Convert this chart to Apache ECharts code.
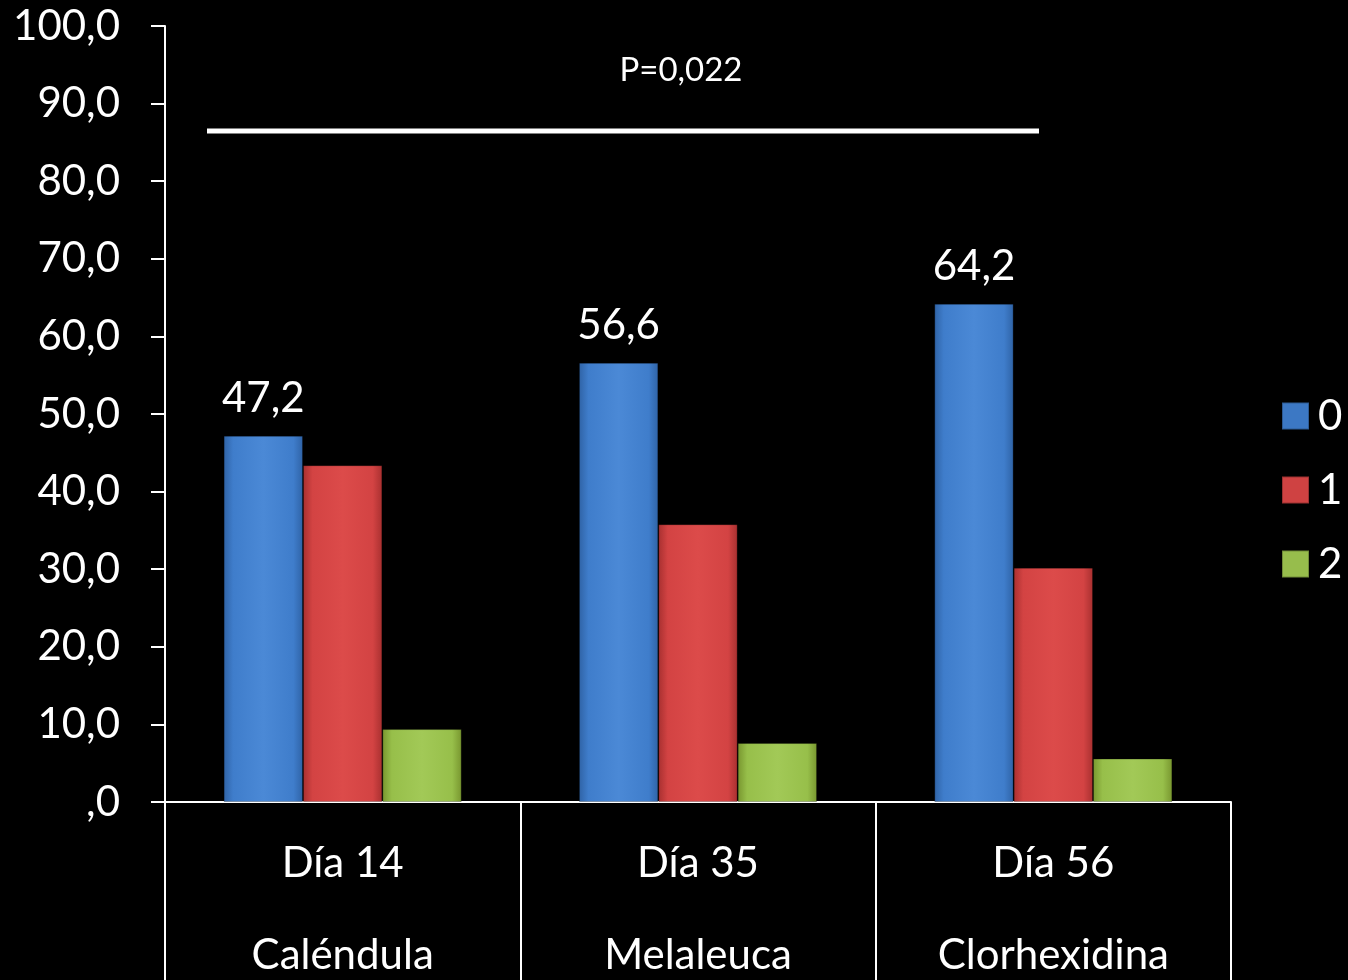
<!DOCTYPE html>
<html>
<head>
<meta charset="utf-8">
<script src="https://cdn.jsdelivr.net/npm/echarts@6/dist/echarts.min.js"></script>
<style>
  html, body { margin: 0; padding: 0; background: #000; }
  #chart { width: 1348px; height: 980px; }
</style>
</head>
<body>
<div id="chart"></div>
<script>
// Categories: study day + treatment group
const categories = ['Día 14\nCaléndula', 'Día 35\nMelaleuca', 'Día 56\nClorhexidina'];
// Percentage per score (0, 1, 2)
const score0 = [47.2, 56.6, 64.2];
const score1 = [43.4, 35.8, 30.2];
const score2 = [9.4, 7.6, 5.6];
const seriesNames = ['0', '1', '2'];
const yTickLabels = [',0', '10,0', '20,0', '30,0', '40,0', '50,0', '60,0', '70,0', '80,0', '90,0', '100,0'];
const pValueText = 'P=0,022';

const FONT = 'Lato, "Open Sans", sans-serif';

function bevel(dark, mid, light) {
  return new echarts.graphic.LinearGradient(0, 0, 1, 0, [
    { offset: 0, color: dark },
    { offset: 0.12, color: mid },
    { offset: 0.5, color: light },
    { offset: 0.88, color: mid },
    { offset: 1, color: dark }
  ]);
}

const palette = [
  bevel('#2f63a6', '#3f7dcb', '#4b89d6'),
  bevel('#a83030', '#d34343', '#dc4b4a'),
  bevel('#78962f', '#97bf4a', '#a2c957')
];
const legendColors = ['#3c78c4', '#cf4242', '#97bd4c'];

const chart = echarts.init(document.getElementById('chart'), null, { renderer: 'canvas' });

function fmt(v) { return v.toFixed(1).replace('.', ','); }

const seriesData = [score0, score1, score2];

chart.setOption({
  backgroundColor: '#000',
  animation: false,
  grid: { left: 165, right: 117, top: 26, bottom: 178, outerBoundsMode: 'none', containLabel: false },
  legend: {
    orient: 'vertical',
    left: 1281,
    top: 395,
    padding: 0,
    itemWidth: 27,
    itemHeight: 27,
    itemGap: 32,
    icon: 'rect',
    textStyle: { color: '#fff', fontSize: 42, lineHeight: 42, fontFamily: FONT, padding: [0, 0, 0, 4] },
    data: seriesNames.map((n, i) => ({ name: n, itemStyle: { color: legendColors[i] } }))
  },
  xAxis: {
    type: 'category',
    data: categories,
    axisLine: { lineStyle: { color: '#fff', width: 2 } },
    axisTick: { show: true, length: 180, lineStyle: { color: '#fff', width: 2 } },
    axisLabel: {
      color: '#fff',
      fontSize: 42,
      fontFamily: FONT,
      lineHeight: 92,
      margin: 15
    }
  },
  yAxis: {
    type: 'value',
    min: 0,
    max: 100,
    interval: 10,
    splitLine: { show: false },
    axisLine: { show: true, lineStyle: { color: '#fff', width: 2 } },
    axisTick: { show: true, length: 14, lineStyle: { color: '#fff', width: 2 } },
    axisLabel: {
      color: '#fff',
      fontSize: 42,
      fontFamily: FONT,
      margin: 45,
      formatter: v => yTickLabels[Math.round(v / 10)]
    }
  },
  series: seriesData.map((d, i) => ({
    name: seriesNames[i],
    type: 'bar',
    data: d,
    barGap: '0%',
    barCategoryGap: '33%',
    itemStyle: { color: palette[i], borderColor: 'rgba(0,0,0,0.25)', borderWidth: 1 },
    label: i === 0 ? {
      show: true,
      position: 'top',
      distance: 16,
      color: '#fff',
      fontSize: 42,
      fontFamily: FONT,
      formatter: p => fmt(p.value)
    } : { show: false }
  })),
  graphic: [
    {
      type: 'line',
      shape: { x1: 207, y1: 131, x2: 1039, y2: 131 },
      style: { stroke: '#fff', lineWidth: 5 }
    },
    {
      type: 'text',
      x: 681,
      y: 70,
      style: {
        text: pValueText,
        fill: '#fff',
        fontSize: 33,
        fontFamily: FONT,
        align: 'center',
        verticalAlign: 'middle'
      }
    }
  ]
});
</script>
</body>
</html>
